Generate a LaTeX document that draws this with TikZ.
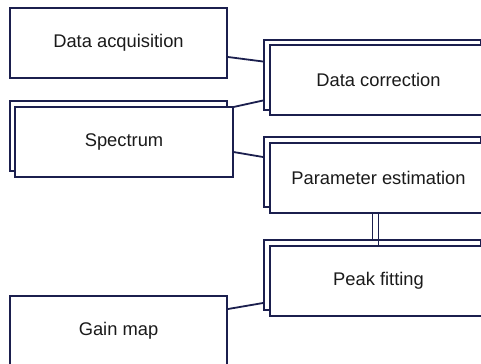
\documentclass[tikz,border=0pt]{standalone}
\usepackage{fontspec}
\setmainfont{Liberation Sans}
\definecolor{navy}{HTML}{1B1F4E}
\definecolor{txt}{HTML}{1A1A1A}
\begin{document}
\begin{tikzpicture}[x=1bp,y=-1bp,
  box/.style={draw=navy,line width=2bp,fill=white,minimum width=217bp,minimum height=70bp,inner sep=0pt,
    font=\fontsize{18.4}{22}\selectfont,text=txt},
  link/.style={draw=navy,line width=1.8bp}]
\useasboundingbox (0,0) rectangle (481,363);
\clip (0,0) rectangle (481,363);
% back boxes
\node[box] (spb) at (118.5,135.5) {};
\node[box] (dcb) at (372.5,74.5) {};
\node[box] (peb) at (372.5,172) {};
\node[box] (pfb) at (372.5,275) {};
% other boxes
\node[box] (da) at (118.5,43) {Data acquisition};
\node[box] (gm) at (118.5,330.5) {Gain map};
\node[box] (spf) at (124,141.5) {Spectrum};
% connectors
\draw[link] ([yshift=-14bp]da.east) -- ([yshift=13bp]dcb.west);
\draw[link] ([yshift=-1.5bp]spf.north east) -- ([yshift=-26bp]dcb.west);
\draw[link] ([yshift=-10.5bp]spf.east) -- ([yshift=15bp]peb.west);
\draw[link] ([yshift=21.5bp]gm.east) -- ([yshift=-28bp]pfb.west);
\draw[link] (peb.south) -- (pfb.north);
% front boxes
\node[box] (dcf) at (378.5,80) {Data correction};
\node[box] (pef) at (378.5,177.5) {Parameter estimation};
\node[box] (pff) at (378.5,280.5) {Peak fitting};
\draw[link] (pef.south) -- (pff.north);
\end{tikzpicture}
\end{document}
